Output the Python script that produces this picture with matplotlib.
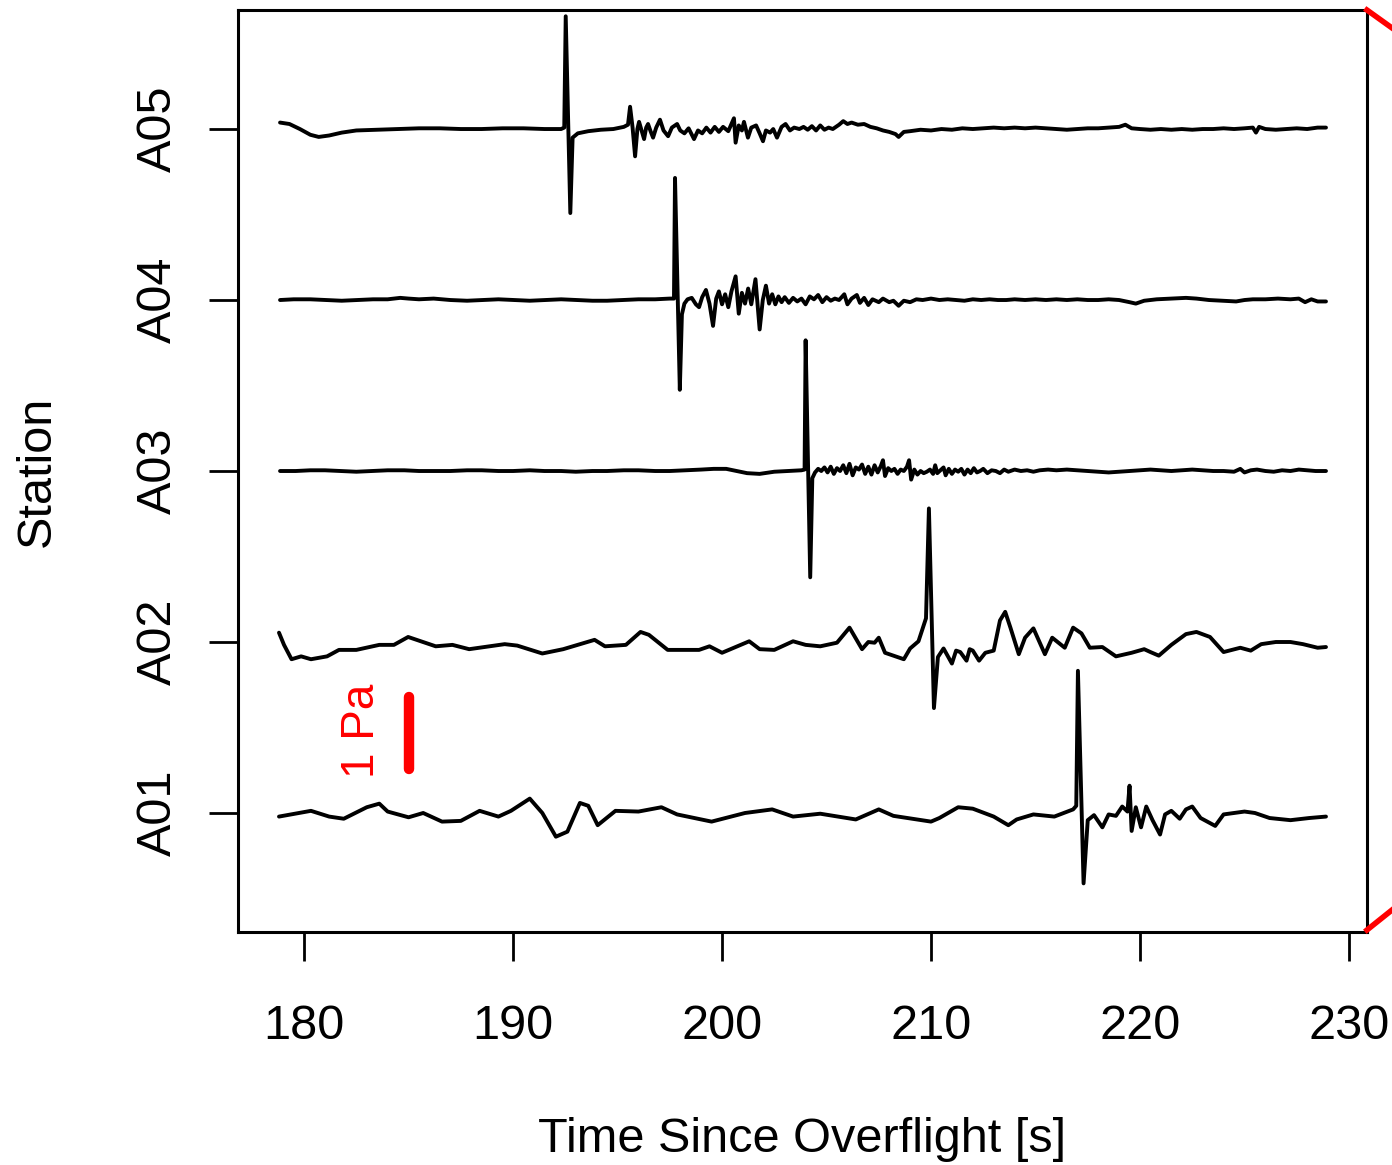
import numpy as np
import matplotlib
matplotlib.use('Agg')
import matplotlib.pyplot as plt
from matplotlib.lines import Line2D

plt.rcParams['font.family'] = ['Liberation Sans', 'DejaVu Sans']

stations = ['A01', 'A02', 'A03', 'A04', 'A05']
gain = 0.42  # trace offset units per Pa

# pressure traces [Pa]
a05_t = [178.85, 179.3, 179.8, 180.3, 180.7, 181.2, 181.8, 182.5, 183.5, 184.5, 185.5, 186.5, 187.5, 188.5,
         189.5, 190.5, 191.5, 192.3, 192.45, 192.52, 192.74, 192.85, 193.1, 193.6, 194.2, 194.8, 195.3, 195.5,
         195.6, 195.72, 195.84, 195.95, 196.03, 196.15, 196.27, 196.37, 196.46, 196.58, 196.7, 196.85, 197.03,
         197.2, 197.42, 197.6, 197.85, 198.0, 198.2, 198.4, 198.66, 198.85, 199.05, 199.25, 199.45, 199.65,
         199.85, 200.05, 200.3, 200.57, 200.65, 200.8, 200.95, 201.05, 201.24, 201.4, 201.63, 201.8, 201.96,
         202.1, 202.3, 202.45, 202.63, 202.85, 203.04, 203.25, 203.45, 203.7, 203.9, 204.1, 204.3, 204.5,
         204.7, 204.9, 205.1, 205.3, 205.6, 205.8, 206.0, 206.2, 206.5, 206.8, 207.1, 207.4, 207.7, 208.0,
         208.3, 208.45, 208.7, 209.0, 209.5, 210.0, 210.5, 211.0, 211.5, 212.0, 212.5, 213.0, 213.5, 214.0,
         214.5, 215.0, 215.5, 216.0, 216.5, 217.0, 217.5, 218.0, 218.5, 219.0, 219.3, 219.6, 220.0, 220.5,
         221.0, 221.5, 222.0, 222.5, 223.0, 223.5, 224.0, 224.5, 225.0, 225.4, 225.55, 225.7, 226.0, 226.5,
         227.0, 227.5, 228.0, 228.5, 228.9]
a05_p = [0.09, 0.07, 0.0, -0.08, -0.11, -0.09, -0.05, -0.02, -0.01, 0.0, 0.01, 0.01, 0.0, 0.0,
         0.01, 0.01, 0.0, 0.0, 0.02, 1.57, -1.17, -0.12, -0.06, -0.03, -0.01, 0.0, 0.03, 0.06,
         0.31, 0.02, -0.38, 0.0, 0.1, -0.02, -0.14, 0.02, 0.07, -0.03, -0.12, 0.02, 0.13,
         -0.02, -0.1, 0.02, 0.07, -0.02, -0.06, 0.01, -0.14, -0.02, -0.06, 0.02, -0.05, 0.03,
         -0.04, 0.03, -0.03, 0.15, -0.19, 0.05, -0.02, 0.1, -0.12, 0.02, 0.05, -0.06, -0.17,
         -0.02, -0.05, 0.0, -0.12, 0.03, 0.07, -0.02, 0.02, 0.0, 0.03, -0.01, 0.04, -0.02,
         0.05, -0.01, 0.02, 0.0, 0.06, 0.11, 0.07, 0.09, 0.06, 0.07, 0.03, 0.01, -0.02, -0.04,
         -0.07, -0.11, -0.04, -0.03, -0.01, -0.02, 0.0, -0.01, 0.01, 0.0, 0.01, 0.02, 0.01, 0.02,
         0.01, 0.02, 0.01, 0.0, -0.01, 0.0, 0.01, 0.01, 0.02, 0.03, 0.06, 0.01, 0.0, -0.01,
         0.0, -0.01, 0.0, -0.01, 0.0, 0.0, 0.01, 0.0, 0.01, 0.02, -0.05, 0.03, 0.0, -0.01,
         0.0, 0.01, 0.0, 0.02, 0.02]

a04_t = [178.85, 179.5, 180.3, 181.0, 181.8, 182.5, 183.3, 184.0, 184.6, 185.0, 185.5, 186.2, 187.0, 187.8,
         188.5, 189.3, 190.0, 190.8, 191.5, 192.3, 193.0, 193.8, 194.5, 195.3, 196.0, 196.8, 197.5, 197.7,
         197.75, 197.98, 198.08, 198.2, 198.35, 198.55, 198.75, 198.9, 199.05, 199.23, 199.4, 199.57, 199.72,
         199.85, 200.0, 200.15, 200.3, 200.45, 200.65, 200.8, 200.95, 201.1, 201.25, 201.4, 201.6, 201.8,
         201.95, 202.1, 202.25, 202.4, 202.55, 202.7, 202.85, 203.0, 203.2, 203.4, 203.6, 203.8, 204.0, 204.2,
         204.4, 204.6, 204.8, 205.0, 205.2, 205.4, 205.6, 205.85, 206.0, 206.2, 206.45, 206.6, 206.8, 207.0,
         207.2, 207.5, 207.7, 208.0, 208.2, 208.45, 208.7, 209.0, 209.3, 209.6, 210.0, 210.4, 210.8, 211.2,
         211.6, 212.0, 212.4, 212.8, 213.2, 213.6, 214.0, 214.5, 215.0, 215.5, 216.0, 216.5, 217.0, 217.5,
         218.0, 218.5, 219.0, 219.5, 219.8, 220.2, 220.8, 221.5, 222.2, 222.7, 223.3, 224.0, 224.6, 225.0,
         225.4, 226.0, 226.6, 227.2, 227.6, 227.9, 228.2, 228.5, 228.9]
a04_p = [0.0, 0.01, 0.01, 0.0, -0.01, 0.0, 0.01, 0.01, 0.03, 0.02, 0.01, 0.02, 0.0, -0.01,
         0.0, 0.01, 0.0, -0.01, 0.0, 0.01, 0.0, -0.01, -0.01, 0.0, 0.01, 0.01, 0.02, 0.02,
         1.7, -1.25, -0.2, -0.05, 0.01, 0.03, -0.06, -0.1, 0.04, 0.14, -0.05, -0.36, 0.02,
         0.12, -0.06, 0.08, -0.1, 0.12, 0.33, -0.19, 0.1, -0.05, 0.16, -0.06, 0.29, -0.41,
         0.0, 0.2, -0.05, 0.08, -0.06, 0.05, -0.03, 0.04, -0.04, 0.03, -0.02, 0.02, -0.06, 0.05,
         0.01, 0.07, -0.03, 0.04, -0.01, 0.02, 0.0, 0.08, -0.06, 0.02, 0.07, -0.04, 0.03, -0.07,
         0.01, -0.03, 0.02, -0.03, -0.01, -0.08, -0.01, -0.03, 0.01, 0.0, 0.02, 0.0, 0.01, 0.0,
         -0.01, 0.01, 0.0, 0.01, 0.0, 0.0, 0.01, 0.0, 0.01, 0.0, 0.01, 0.0, 0.01, 0.0,
         0.0, 0.01, 0.0, -0.03, -0.05, -0.01, 0.01, 0.02, 0.03, 0.02, 0.0, -0.01, -0.02, 0.0,
         0.01, 0.01, 0.02, 0.01, 0.02, -0.03, 0.01, -0.02, -0.02]

a03_t = [178.85, 179.6, 180.3, 181.0, 181.8, 182.5, 183.3, 184.0, 184.8, 185.5, 186.3, 187.0, 187.8, 188.5,
         189.3, 190.0, 190.8, 191.5, 192.3, 193.0, 193.8, 194.5, 195.3, 196.0, 196.8, 197.5, 198.3, 199.0,
         199.6, 200.2, 200.7, 201.2, 201.8, 202.5, 203.2, 203.8, 203.95, 204.0, 204.22, 204.32, 204.45, 204.6,
         204.75, 204.9, 205.05, 205.2, 205.35, 205.5, 205.65, 205.8, 205.95, 206.1, 206.25, 206.4, 206.55,
         206.7, 206.85, 207.0, 207.15, 207.3, 207.45, 207.6, 207.7, 207.8, 207.95, 208.1, 208.25, 208.4,
         208.55, 208.7, 208.85, 208.95, 209.05, 209.2, 209.35, 209.5, 209.65, 209.8, 209.95, 210.1, 210.2,
         210.3, 210.45, 210.6, 210.7, 210.85, 211.0, 211.15, 211.3, 211.45, 211.6, 211.75, 211.9, 212.05,
         212.2, 212.35, 212.5, 212.7, 212.9, 213.1, 213.3, 213.5, 213.7, 214.0, 214.3, 214.6, 214.9, 215.2,
         215.6, 216.0, 216.5, 217.0, 217.5, 218.0, 218.5, 219.0, 219.5, 220.0, 220.5, 221.0, 221.5, 222.0,
         222.5, 223.0, 223.5, 224.0, 224.5, 224.8, 225.0, 225.3, 225.6, 226.0, 226.4, 226.8, 227.2, 227.6,
         228.0, 228.4, 228.9]
a03_p = [0.0, 0.0, 0.01, 0.01, 0.0, -0.01, 0.0, 0.01, 0.01, 0.0, 0.0, 0.0, 0.01, 0.01,
         0.0, 0.0, 0.01, 0.0, 0.0, -0.01, 0.0, 0.0, 0.01, 0.01, 0.0, 0.0, 0.01, 0.02,
         0.03, 0.03, 0.0, -0.03, -0.04, -0.01, 0.0, 0.01, 0.02, 1.82, -1.48, -0.1, -0.02, 0.03,
         0.0, 0.05, -0.02, 0.06, -0.04, 0.04, 0.0, 0.08, -0.03, 0.1, -0.06, 0.05, 0.02,
         0.09, -0.04, 0.06, -0.05, 0.08, -0.02, 0.07, 0.15, -0.07, 0.04, 0.0, 0.03, -0.04,
         0.02, 0.0, 0.06, 0.15, -0.12, 0.02, -0.05, 0.0, -0.03, -0.01, 0.02, -0.04, 0.08,
         -0.03, 0.01, 0.05, -0.06, 0.03, -0.04, 0.02, -0.01, 0.03, -0.05, 0.02, -0.03, 0.04,
         -0.02, 0.0, 0.03, -0.03, 0.01, 0.0, -0.03, 0.02, -0.01, 0.02, 0.0, 0.01, -0.01, 0.01,
         0.02, 0.01, 0.02, 0.01, 0.0, -0.01, -0.02, -0.01, 0.0, 0.01, 0.02, 0.01, 0.0, 0.01,
         0.02, 0.01, 0.0, 0.0, -0.01, 0.03, -0.02, 0.01, 0.02, 0.0, -0.01, 0.01, 0.0, 0.02,
         0.01, 0.0, 0.0]

a02_t = [178.8, 179.04, 179.4, 179.86, 180.33, 181.1, 181.67, 182.5, 183.6, 184.3, 184.98, 186.3, 187.1,
         187.9, 189.6, 190.2, 191.4, 192.4, 193.9, 194.4, 195.4, 196.1, 196.5, 197.4, 198.9, 199.4, 200.0,
         201.3, 201.8, 202.5, 203.4, 204.0, 204.7, 205.5, 206.1, 206.7, 207.0, 207.3, 207.5, 207.8, 208.7,
         209.0, 209.4, 209.76, 209.9, 210.14, 210.33, 210.6, 211.0, 211.2, 211.4, 211.7, 211.85, 212.0, 212.3,
         212.6, 213.0, 213.3, 213.55, 213.8, 214.2, 214.5, 214.9, 215.45, 215.8, 216.4, 216.8, 217.2, 217.6,
         218.2, 218.85, 219.6, 220.2, 220.5, 220.9, 221.5, 222.2, 222.7, 223.35, 224.0, 224.8, 225.3, 225.8,
         226.5, 227.2, 227.8, 228.5, 228.9]
a02_p = [0.13, -0.04, -0.24, -0.2, -0.24, -0.2, -0.11, -0.11, -0.04, -0.04, 0.07, -0.06, -0.04,
         -0.1, -0.03, -0.05, -0.16, -0.1, 0.03, -0.06, -0.04, 0.14, 0.1, -0.11, -0.11, -0.06, -0.15,
         0.01, -0.1, -0.11, 0.01, -0.04, -0.06, -0.01, 0.2, -0.1, 0.0, -0.01, 0.06, -0.15, -0.24,
         -0.09, 0.01, 0.33, 1.86, -0.92, -0.21, -0.09, -0.3, -0.12, -0.14, -0.26, -0.1, -0.12, -0.26,
         -0.15, -0.12, 0.3, 0.42, 0.2, -0.17, 0.06, 0.19, -0.17, 0.06, -0.08, 0.2, 0.12, -0.08,
         -0.07, -0.2, -0.15, -0.1, -0.14, -0.19, -0.04, 0.11, 0.14, 0.07, -0.14, -0.08, -0.12, -0.03,
         0.0, 0.0, -0.03, -0.08, -0.07]

a01_t = [178.8, 180.33, 181.2, 181.9, 183.0, 183.6, 184.0, 185.0, 185.7, 186.6, 187.5, 188.4, 189.3,
         189.9, 190.8, 191.4, 192.05, 192.6, 193.2, 193.6, 194.05, 194.9, 196.0, 197.1, 197.85, 199.5,
         201.1, 202.4, 203.4, 204.7, 206.4, 207.5, 208.2, 210.0, 210.4, 211.3, 212.0, 213.0, 213.7, 214.1,
         214.9, 215.9, 216.8, 216.95, 217.03, 217.3, 217.5, 217.8, 218.2, 218.5, 218.85, 219.15, 219.4,
         219.5, 219.6, 219.8, 220.05, 220.3, 220.6, 220.96, 221.2, 221.5, 221.9, 222.2, 222.5, 222.9,
         223.6, 224.0, 225.0, 225.5, 226.2, 227.2, 228.1, 228.9]
a01_p = [-0.05, 0.03, -0.05, -0.08, 0.08, 0.13, 0.02, -0.06, 0.0, -0.12, -0.11, 0.03, -0.05,
         0.03, 0.2, 0.0, -0.33, -0.26, 0.14, 0.1, -0.17, 0.03, 0.02, 0.08, -0.02, -0.12,
         0.0, 0.05, -0.05, -0.01, -0.09, 0.05, -0.04, -0.12, -0.07, 0.08, 0.06, -0.05, -0.17, -0.09,
         -0.02, -0.05, 0.05, 0.1, 1.98, -0.98, -0.1, -0.03, -0.2, -0.02, -0.04, 0.09, 0.02,
         0.38, -0.25, 0.08, -0.2, 0.09, -0.1, -0.3, -0.02, 0.03, -0.08, 0.05, 0.09, -0.07,
         -0.18, -0.02, 0.02, 0.0, -0.07, -0.1, -0.07, -0.05]

traces = [(a01_t, a01_p), (a02_t, a02_p), (a03_t, a03_p), (a04_t, a04_p), (a05_t, a05_p)]

fig = plt.figure(figsize=(13.92, 11.65), dpi=100)
ax = fig.add_axes([0.171, 0.2, 0.811, 0.7914])

for i, (t, p) in enumerate(traces):
    ax.plot(t, i + 1 + gain * np.array(p), color='black', lw=2.8,
            solid_joinstyle='round', solid_capstyle='round')

# 1 Pa scale bar
ax.plot([185, 185], [1.26, 1.26 + gain], color='red', lw=7.5, solid_capstyle='round')
ax.text(182.75, 1.48, '1 Pa', color='red', fontsize=33, rotation=90, ha='center', va='center')

ax.set_xlim(176.84, 230.86)
ax.set_ylim(0.304, 5.696)
ax.set_xticks(np.arange(180, 231, 10))
ax.set_yticks(range(1, 6))
ax.set_yticklabels(stations, rotation=90, va='center')
ax.tick_params(axis='both', labelsize=35, length=21, width=2, direction='out')
ax.tick_params(axis='x', pad=31)
ax.tick_params(axis='y', pad=20)
for s in ax.spines.values():
    s.set_linewidth(2.2)

ax.set_xlabel('Time Since Overflight [s]', fontsize=35)
ax.xaxis.set_label_coords(0.5, -0.201)
ax.set_ylabel('Station', fontsize=35)
ax.yaxis.set_label_coords(-0.158, 0.5)

# connector lines to the zoomed panel
fig.add_artist(Line2D([0.982, 1.0], [0.9914, 0.976], color='red', lw=4, transform=fig.transFigure))
fig.add_artist(Line2D([0.982, 1.0], [0.2017, 0.2189], color='red', lw=4, transform=fig.transFigure))

fig.savefig('out.png', dpi=100)
